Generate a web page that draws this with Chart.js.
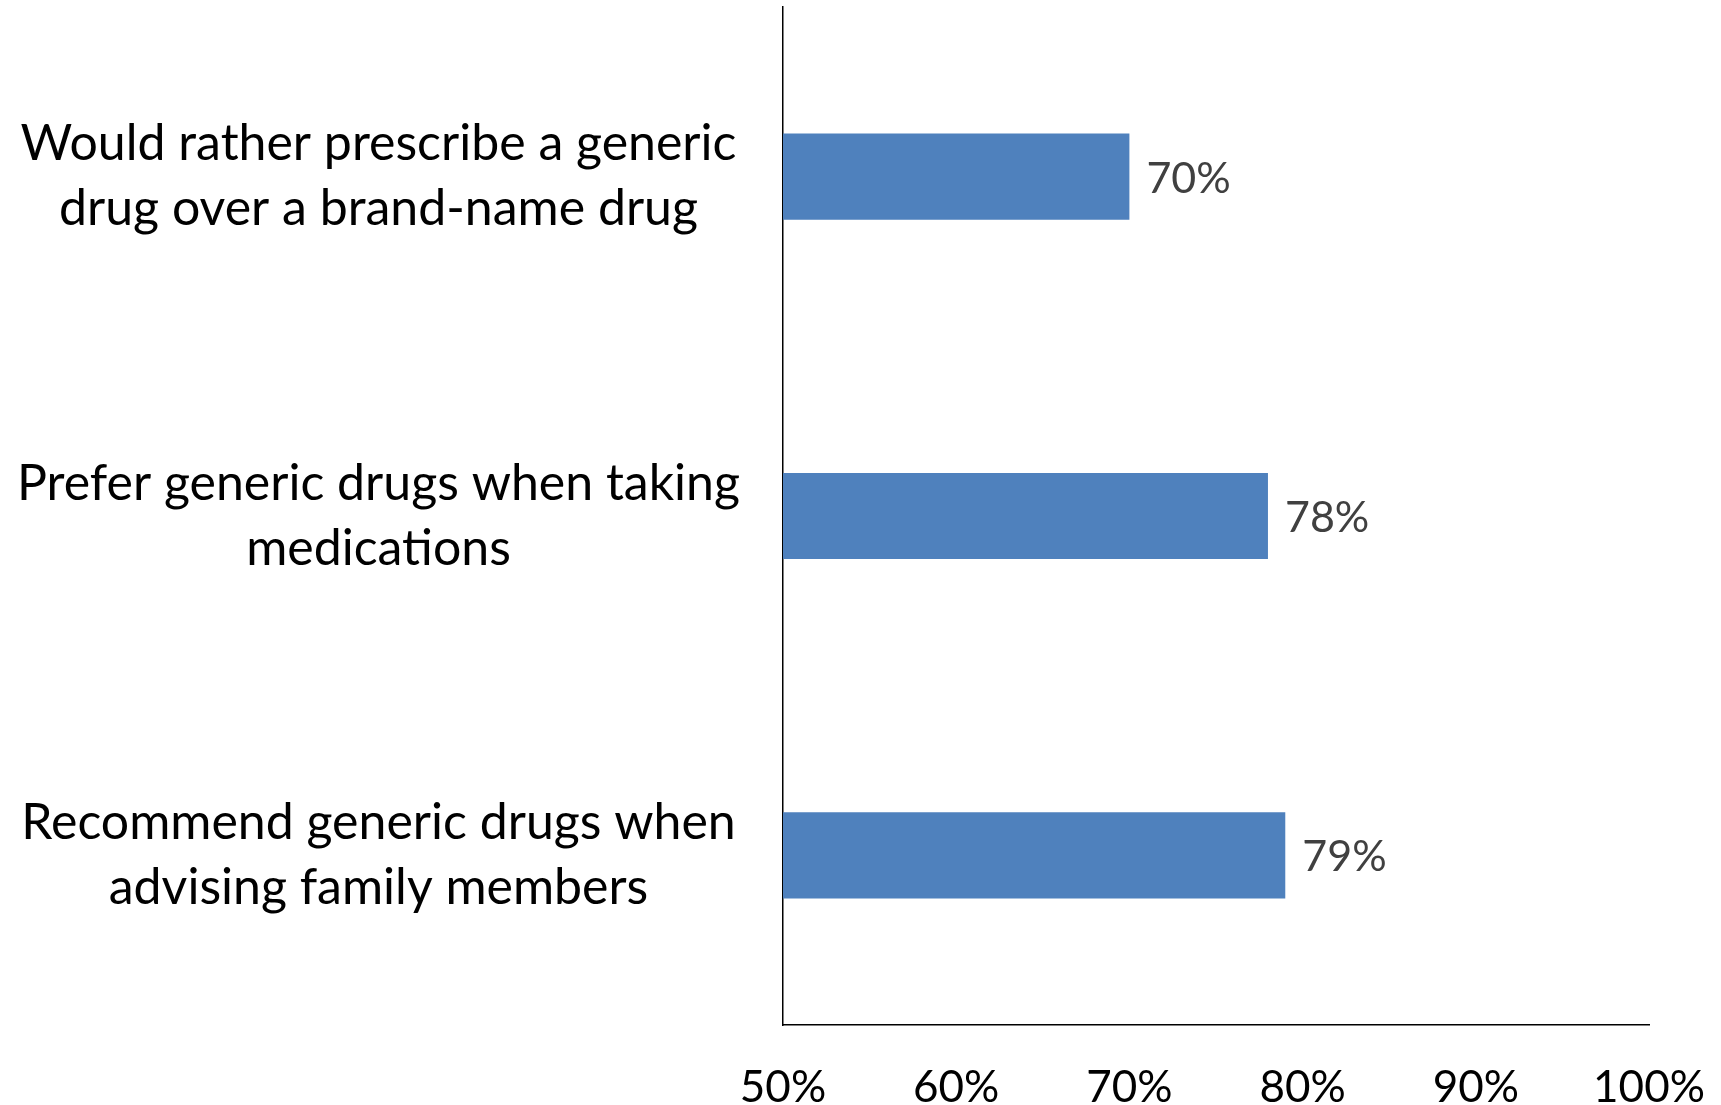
<!DOCTYPE html>
<html>
<head>
<meta charset="utf-8">
<script src="https://cdn.jsdelivr.net/npm/chart.js@4/dist/chart.umd.min.js"></script>
<style>
  html, body { margin: 0; padding: 0; background: #ffffff; }
  #wrap { width: 1721px; height: 1105px; position: relative; }
</style>
</head>
<body>
<div id="wrap"><canvas id="c"></canvas></div>
<script>
// Survey statements (each wrapped onto two lines) and share agreeing, in percent
const categories = [
  ["Would rather prescribe a generic", "drug over a brand-name drug"],
  ["Prefer generic drugs when taking", "medications"],
  ["Recommend generic drugs when", "advising family members"]
];
const shares = [70, 78, 79];
const axisMin = 50;
const axisMax = 100;
const axisStep = 10;

const FONT = "Lato, 'Open Sans', sans-serif";
const BAR_BLUE = "#4F81BD";

// Writes each bar's value just past its end
const valueLabels = {
  id: "valueLabels",
  afterDatasetsDraw(chart) {
    const ctx = chart.ctx;
    const meta = chart.getDatasetMeta(0);
    ctx.save();
    ctx.font = "43px " + FONT;
    ctx.fillStyle = "#404040";
    ctx.textAlign = "left";
    ctx.textBaseline = "middle";
    meta.data.forEach((bar, i) => {
      ctx.fillText(shares[i] + "%", bar.x + 17, bar.y + 2);
    });
    ctx.restore();
  }
};

new Chart(document.getElementById("c"), {
  type: "bar",
  data: {
    labels: categories,
    datasets: [{
      data: shares,
      backgroundColor: BAR_BLUE,
      borderWidth: 0,
      categoryPercentage: 1,
      barPercentage: 0.254
    }]
  },
  options: {
    indexAxis: "y",
    responsive: true,
    maintainAspectRatio: false,
    animation: false,
    layout: { padding: { top: 7, right: 72, left: 0, bottom: 0 } },
    plugins: {
      legend: { display: false },
      tooltip: { enabled: false }
    },
    scales: {
      x: {
        min: axisMin,
        max: axisMax,
        ticks: {
          stepSize: axisStep,
          color: "#000000",
          padding: 36,
          font: { family: FONT, size: 44 },
          callback: (v) => v + "%"
        },
        grid: { display: false, drawTicks: false },
        border: { display: true, color: "#000000", width: 1.5 },
        afterFit(scale) {
          scale.height = 80;
          scale.paddingLeft = 0;
          scale.paddingRight = 0;
        }
      },
      y: {
        ticks: {
          color: "#000000",
          padding: 43,
          crossAlign: "center",
          font: { family: FONT, size: 50, lineHeight: 1.3 }
        },
        grid: { display: false, drawTicks: false },
        border: { display: true, color: "#000000", width: 1.5 },
        afterFit(scale) {
          scale.width = 783;
          scale.paddingTop = 0;
          scale.paddingBottom = 0;
        }
      }
    }
  },
  plugins: [valueLabels]
});
</script>
</body>
</html>
